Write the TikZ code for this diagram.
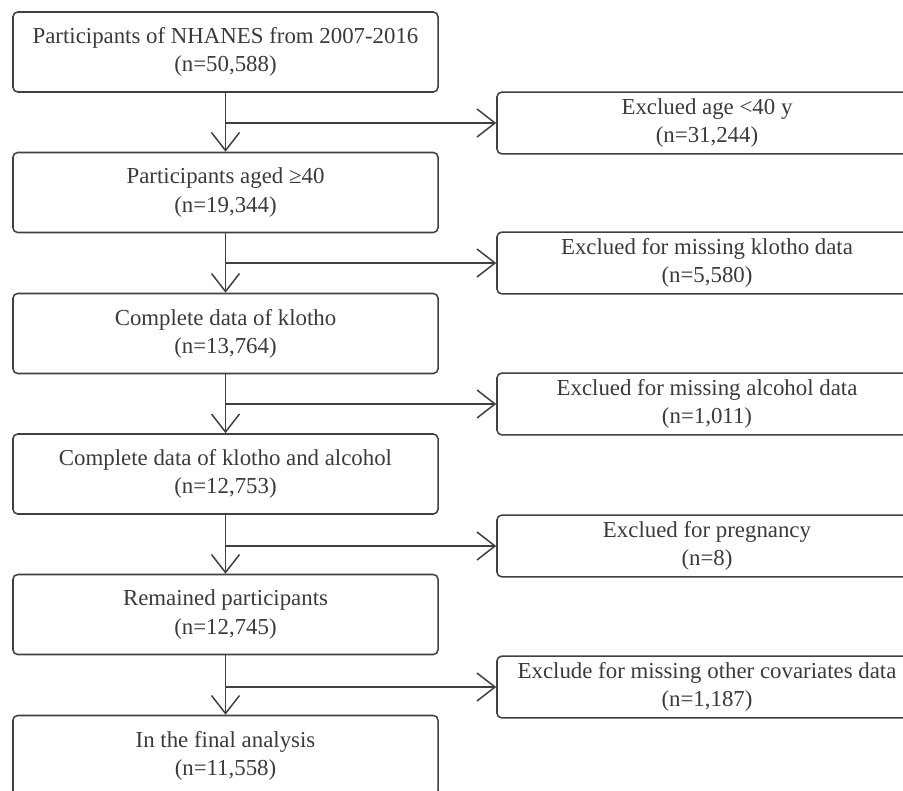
\documentclass[tikz,border=0pt]{standalone}
\usepackage{fontspec}
\setmainfont{Liberation Serif}
\usepackage{tikz}
\usetikzlibrary{arrows.meta,positioning}
\usepackage{xcolor}
\definecolor{ink}{HTML}{404040}
\definecolor{txt}{HTML}{3A3A3A}

\tikzset{
  mainbox/.style={draw=ink,line width=1.3pt,rounded corners=4pt,
    minimum width=12.75cm,minimum height=2.4cm,align=center,
    text=txt,font=\fontsize{19.5}{24}\selectfont},
  exclbox/.style={mainbox,minimum width=12.6cm,minimum height=1.85cm},
  arr/.style={draw=ink,line width=1.3pt,
    -{Straight Barb[length=0.54cm,width=0.84cm,line width=1.3pt]}},
  link/.style={draw=ink,line width=1.3pt}
}

\begin{document}
\begin{tikzpicture}[x=0.03cm,y=-0.03cm]
  \useasboundingbox (0,0) rectangle (903,791);
  % Left: kept participants
  \node[mainbox] (b1) at (225.5,52) {Participants of NHANES from 2007-2016\\(n=50,588)};
  \node[mainbox] (b2) at (225.5,192.5) {Participants aged ≥40\\(n=19,344)};
  \node[mainbox] (b3) at (225.5,333.5) {Complete data of klotho\\(n=13,764)};
  \node[mainbox] (b4) at (225.5,474) {Complete data of klotho and alcohol\\(n=12,753)};
  \node[mainbox] (b5) at (225.5,614.5) {Remained participants\\(n=12,745)};
  \node[mainbox] (b6) at (225.5,755.5) {In the final analysis\\(n=11,558)};
  % Right: exclusions
  \node[exclbox] (r1) at (707,123) {Exclued age <40 y\\(n=31,244)};
  \node[exclbox] (r2) at (707,263) {Exclued for missing klotho data\\(n=5,580)};
  \node[exclbox] (r3) at (707,404) {Exclued for missing alcohol data\\(n=1,011)};
  \node[exclbox] (r4) at (707,546) {Exclued for pregnancy\\(n=8)};
  \node[exclbox] (r5) at (707,687) {Exclude for missing other covariates data\\(n=1,187)};
  % Arrows
  \draw[arr] (b1) -- (b2);
  \draw[arr] (b2) -- (b3);
  \draw[arr] (b3) -- (b4);
  \draw[arr] (b4) -- (b5);
  \draw[arr] (b5) -- (b6);
  \coordinate (j1) at (b1.south |- r1.west);
  \coordinate (j2) at (b2.south |- r2.west);
  \coordinate (j3) at (b3.south |- r3.west);
  \coordinate (j4) at (b4.south |- r4.west);
  \coordinate (j5) at (b5.south |- r5.west);
  \draw[arr] (j1) -- (r1);
  \draw[arr] (j2) -- (r2);
  \draw[arr] (j3) -- (r3);
  \draw[arr] (j4) -- (r4);
  \draw[arr] (j5) -- (r5);
\end{tikzpicture}
\end{document}
